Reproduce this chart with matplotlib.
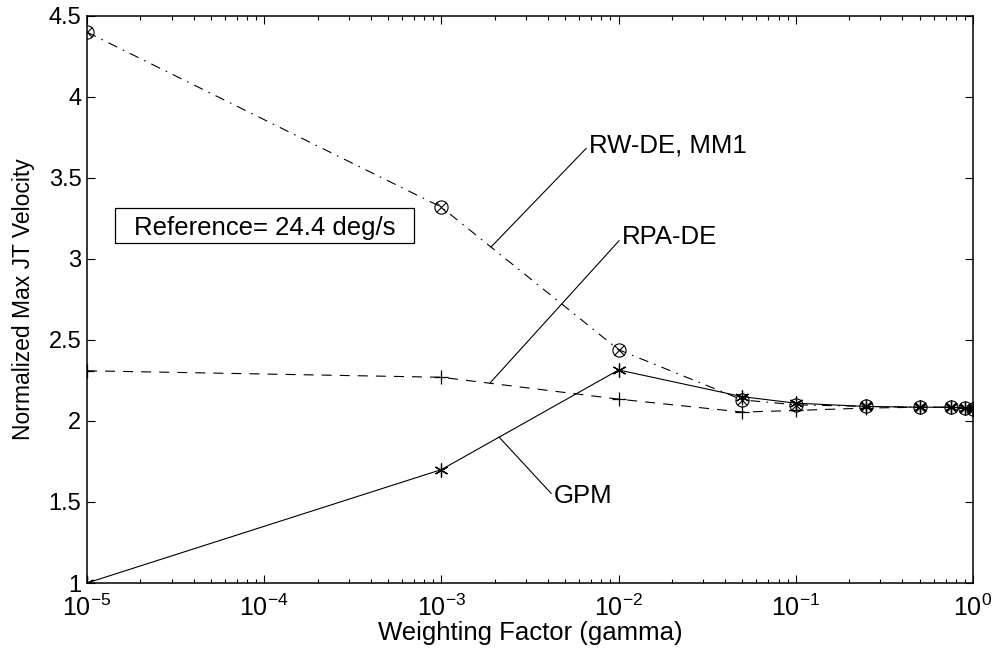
import matplotlib
matplotlib.use("Agg")
import matplotlib.pyplot as plt
from matplotlib.patches import Rectangle
from matplotlib.ticker import LogLocator, FixedLocator, NullFormatter

plt.rcParams['font.family'] = ['Liberation Sans', 'DejaVu Sans']
plt.rcParams['lines.scale_dashes'] = False
plt.rcParams['mathtext.fontset'] = 'custom'
plt.rcParams['mathtext.rm'] = 'Liberation Sans'
plt.rcParams['mathtext.default'] = 'regular'

gamma = [1e-5, 1e-3, 1e-2, 0.05, 0.1, 0.25, 0.5, 0.75, 0.9, 1.0]
rw_de = [4.40, 3.32, 2.44, 2.13, 2.10, 2.09, 2.085, 2.085, 2.08, 2.075]
rpa_de = [2.31, 2.27, 2.135, 2.055, 2.065, 2.08, 2.085, 2.085, 2.08, 2.075]
gpm = [1.00, 1.70, 2.315, 2.15, 2.11, 2.09, 2.085, 2.085, 2.08, 2.075]

x_ticks = [1e-5, 1e-4, 1e-3, 1e-2, 1e-1, 1]
x_ticklabels = [r'$10^{-5}$', r'$10^{-4}$', r'$10^{-3}$', r'$10^{-2}$', r'$10^{-1}$', r'$10^{0}$']
y_ticks = [1, 1.5, 2, 2.5, 3, 3.5, 4, 4.5]
y_ticklabels = ['1', '1.5', '2', '2.5', '3', '3.5', '4', '4.5']

fig = plt.figure(figsize=(9.99, 6.56), dpi=100)
ax = fig.add_axes([87/999, 1-583/656, (973-87)/999, (583-16)/656])

lw = 0.8
# RW-DE, MM1: dash-dot with circle + x markers
ax.plot(gamma, rw_de, color='black', lw=lw, linestyle=(0, (7, 4.5, 1.2, 4.5)))
ax.plot(gamma, rw_de, linestyle='none', marker='o', ms=9.5, mfc='none', mec='black', mew=0.8)
ax.plot(gamma, rw_de, linestyle='none', marker='x', ms=7, mec='black', mew=0.8)
# RPA-DE: dashed with + markers
ax.plot(gamma, rpa_de, color='black', lw=lw, linestyle=(0, (7.2, 5.8)),
        marker='+', ms=9.5, mew=0.9, mec='black')
# GPM: solid with asterisk markers
ax.plot(gamma, gpm, color='black', lw=lw, linestyle='-',
        marker=(6, 2, 0), ms=10, mew=0.9, mec='black')

ax.set_xscale('log')
ax.set_xlim(1e-5, 1)
ax.set_ylim(1, 4.5)
ax.set_yticks(y_ticks)
ax.set_yticklabels(y_ticklabels)
ax.xaxis.set_major_locator(FixedLocator(x_ticks))
ax.set_xticklabels(x_ticklabels)
ax.xaxis.set_minor_locator(LogLocator(base=10, subs=range(2, 10)))
ax.xaxis.set_minor_formatter(NullFormatter())

ax.tick_params(which='both', direction='in', top=True, right=True, width=0.8)
ax.tick_params(which='major', length=5.8)
ax.tick_params(which='minor', length=3)
ax.tick_params(axis='x', pad=8.5, labelsize=18)
ax.tick_params(axis='y', pad=4, labelsize=17)
for s in ax.spines.values():
    s.set_linewidth(1.1)

ax.set_xlabel('Weighting Factor (gamma)', fontsize=18.5, labelpad=0)
ax.set_ylabel('Normalized Max JT Velocity', fontsize=16.5)
ax.yaxis.set_label_coords(-0.059, 0.5)

# annotations (text with leader lines), positions in axes fraction
def fx(px):
    return (px - 87) / (973 - 87)

def fy(py):
    return (583 - py) / (583 - 16)

ann_kw = dict(xycoords='axes fraction', textcoords='axes fraction', fontsize=18.5,
              va='center_baseline', ha='left',
              arrowprops=dict(arrowstyle='-', color='black', lw=0.8, shrinkA=0, shrinkB=0,
                              relpos=(0, 0.5)))
ax.annotate('RW-DE, MM1', xy=(fx(491), fy(247)), xytext=(fx(589), fy(143)), **ann_kw)
ax.annotate('RPA-DE', xy=(fx(490), fy(383)), xytext=(fx(622), fy(235)), **ann_kw)
ax.annotate('GPM', xy=(fx(499), fy(437)), xytext=(fx(554), fy(494)), **ann_kw)

# reference box
ax.add_patch(Rectangle((fx(115), fy(243)), fx(414) - fx(115), fy(208) - fy(243),
                       transform=ax.transAxes, fc='white', ec='black', lw=0.9, zorder=3))
ax.text((fx(115) + fx(414)) / 2, fy(226), 'Reference= 24.4 deg/s', transform=ax.transAxes,
        fontsize=18.5, va='center_baseline', ha='center', zorder=4)

fig.savefig('out.png', dpi=100)
